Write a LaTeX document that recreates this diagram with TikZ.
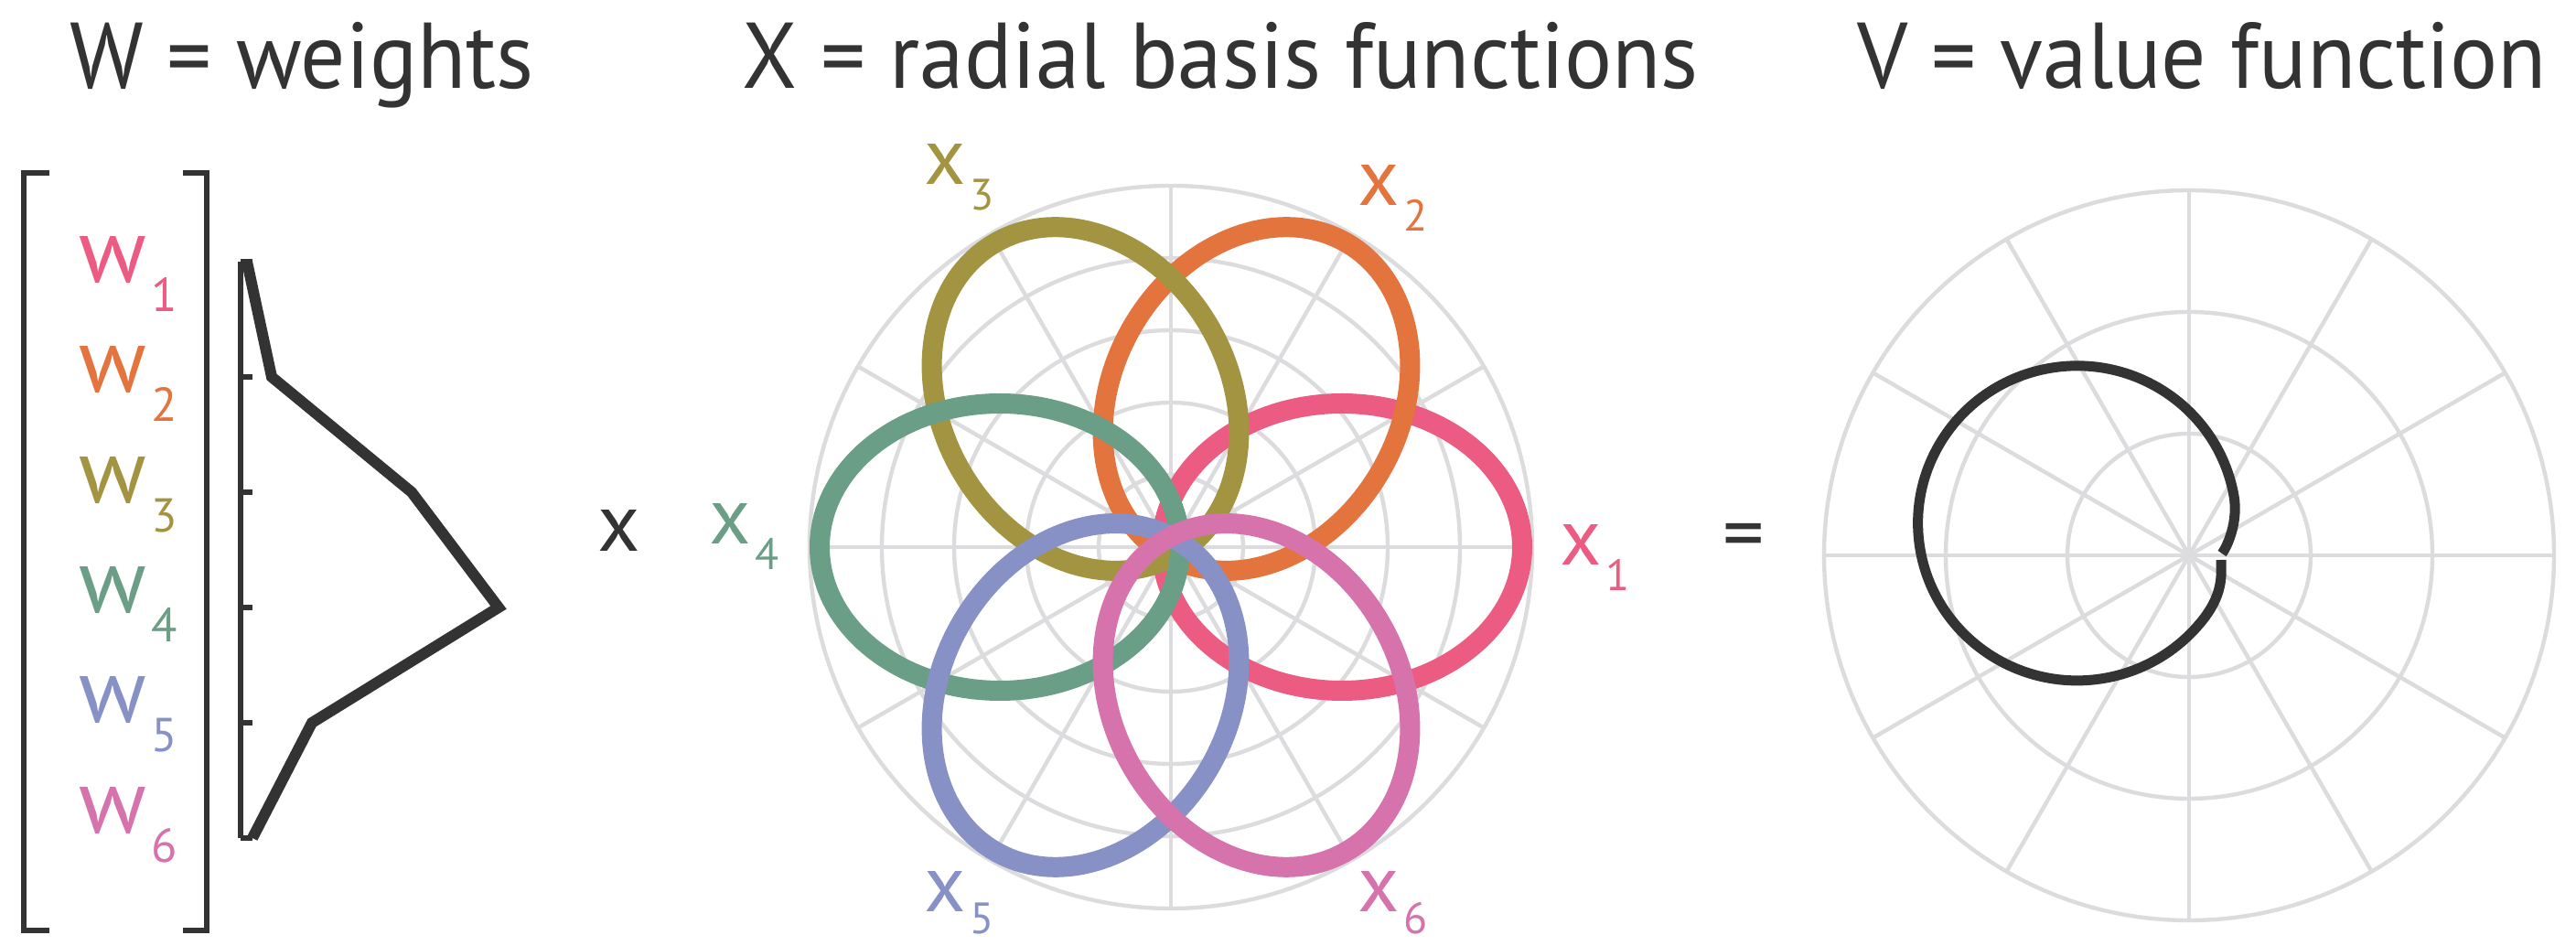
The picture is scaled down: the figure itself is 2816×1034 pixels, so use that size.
\documentclass[tikz,border=0pt]{standalone}
\usepackage{fontspec}
\setmainfont{PT Sans}
\usetikzlibrary{calc}
\definecolor{dark}{HTML}{333333}
\definecolor{gridgray}{HTML}{DCDCDE}
\definecolor{cA}{HTML}{EC5C82}
\definecolor{cB}{HTML}{E3743E}
\definecolor{cC}{HTML}{A39442}
\definecolor{cD}{HTML}{6B9E86}
\definecolor{cE}{HTML}{8891C5}
\definecolor{cF}{HTML}{D672AC}
\newcommand{\titlefont}{\fontsize{25.5pt}{30pt}\selectfont}
\newcommand{\ttl}[1]{\scalebox{0.955}[1]{#1}}
\newcommand{\wlab}[2]{\fontsize{25pt}{28pt}\selectfont #1\hspace{1.2pt}\raisebox{-8pt}{\fontsize{13pt}{15pt}\selectfont #2}}
\newcommand{\xlab}[3]{\fontsize{22pt}{26pt}\selectfont #1\hspace{1pt}\raisebox{#3}{\fontsize{12pt}{14pt}\selectfont #2}}
\begin{document}
\begin{tikzpicture}[x=0.25pt,y=-0.25pt,
  gridline/.style={draw=gridgray, line width=1.1pt},
  rbf/.style={line width=5.5pt},
  darkline/.style={draw=dark, line width=2.75pt},
  axisline/.style={draw=dark, line width=1.3pt},
  bracketline/.style={draw=dark, line width=1.4pt},
  title/.style={anchor=base, inner sep=0pt, text=dark, font=\titlefont},
  lab/.style={anchor=base west, inner sep=0pt}]
\fill[white] (0,0) rectangle (2816,1034);
\useasboundingbox (0,0) rectangle (2816,1034);

% titles
\node[title] (tW) at (330,97) {\ttl{W = weights}};
\node[title] (tX) at (1334,97) {\ttl{X = radial basis functions}};
\node[title] (tV) at (2407,97) {\ttl{V = value function}};

% brackets
\draw[bracketline] (54,189) -- (26,189) -- (26,1017) -- (54,1017);
\draw[bracketline] (200,189) -- (226,189) -- (226,1017) -- (200,1017);

% weight labels
\node[lab, text=cA] (w1) at (86,309) {\wlab{w}{1}};
\node[lab, text=cB] (w2) at (86,429) {\wlab{w}{2}};
\node[lab, text=cC] (w3) at (86,550) {\wlab{w}{3}};
\node[lab, text=cD] (w4) at (86,670) {\wlab{w}{4}};
\node[lab, text=cE] (w5) at (86,790) {\wlab{w}{5}};
\node[lab, text=cF] (w6) at (86,911) {\wlab{w}{6}};

% weight profile
\draw[axisline] (263,286) -- (263,916);
\foreach \yy in {286,412,538,664,790,916} \draw[axisline] (263,\yy) -- (276,\yy);
\draw[darkline, line width=3pt] (270,286) -- (297,412) -- (450,538) -- (545,664) -- (341,790) -- (276,916);

% operators
\node[lab, text=dark, font=\fontsize{22.5pt}{26pt}\selectfont] (times) at (653,603) {x};
\node[inner sep=0pt, text=dark, font=\fontsize{22.5pt}{26pt}\selectfont] (eq) at (1906,593) {=};

% middle polar grid
\coordinate (M) at (1280,598);
\foreach \r in {79,158,237,316,395} \draw[gridline] (M) circle [radius=\r];
\foreach \a in {0,30,...,330} \draw[gridline] (M) -- ++(\a:395);

% radial basis functions
\foreach \i/\c in {0/cA,1/cB,2/cC,3/cD,4/cE,5/cF}{
  \pgfmathsetmacro\ph{60*\i}
  \draw[rbf, draw=\c, rotate around={\ph:(M)}] ($(M)+(187,0)$) ellipse [x radius=197, y radius=157];
}

% rbf labels
\node[lab, text=cA] (x1) at (1705,618) {\xlab{x}{1}{-7pt}};
\node[lab, text=cB] (x2) at (1484,225) {\xlab{x}{2}{-7pt}};
\node[lab, text=cC] (x3) at (1010,202) {\xlab{x}{3}{-7pt}};
\node[lab, text=cD] (x4) at (775,595) {\xlab{x}{4}{-7pt}};
\node[lab, text=cE] (x5) at (1010,997) {\xlab{x}{5}{-6pt}};
\node[lab, text=cF] (x6) at (1484,997) {\xlab{x}{6}{-6pt}};

% right polar grid
\coordinate (V) at (2393,607);
\foreach \r in {133,266,399} \draw[gridline] (V) circle [radius=\r];
\foreach \a in {0,30,...,330} \draw[gridline] (V) -- ++(\a:399);

% value function
\draw[darkline, shift={(V)}] (36,-2) .. controls (42,-10) and (54,-37) .. (49,-65)
  arc[start angle=-10, end angle=-320, x radius=174, y radius=172]
  .. controls (39,43) and (35,20) .. (35,5);
\end{tikzpicture}
\end{document}
